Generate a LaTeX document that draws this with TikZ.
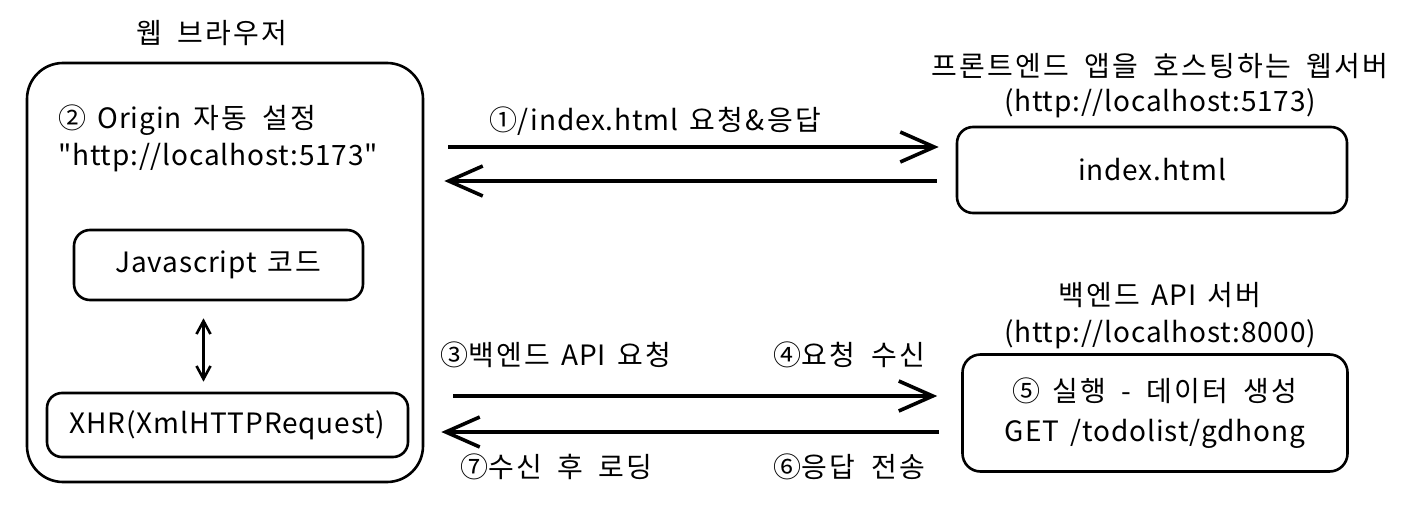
\documentclass[tikz,border=0pt]{standalone}
\usepackage{fontspec}
\setmainfont{Noto Sans CJK KR}[Ligatures=TeXOff, LetterSpace=3, WordSpace=1.6]
\newfontfamily\kr{Noto Sans CJK KR}[Ligatures=TeXOff, LetterSpace=8, WordSpace=1.8]
\newcommand{\K}[1]{{\kr #1}}
\usetikzlibrary{arrows.meta}
\begin{document}
\begin{tikzpicture}[x=1pt,y=-1pt,
  box/.style={draw, line width=2.6pt, rounded corners=16pt, inner sep=0pt, align=center},
  lbl/.style={font=\fontsize{28}{37}\selectfont, inner sep=0pt, align=center},
  flow/.style={line width=3.6pt, -{Straight Barb[length=34pt,width=30pt,line width=3.6pt]}},
  dbl/.style={line width=2.6pt, {Straight Barb[length=13pt,width=14pt,line width=2.6pt]}-{Straight Barb[length=13pt,width=14pt,line width=2.6pt]}}]
\useasboundingbox (0,0) rectangle (1404,516);
% browser
\node[box, rounded corners=36pt, minimum width=396pt, minimum height=419pt] (browser) at (225,272.5) {};
\node[lbl] (browsertitle) at (212,33) {\K{웹 브라우저}};
\node[lbl, anchor=west, align=left] (origin) at (58,138) {② Origin \K{자동 설정}\\"http://localhost:5173"};
\node[box, lbl, minimum width=289pt, minimum height=70pt] (js) at (218.5,265) {Javascript \K{코드}};
\node[box, lbl, rounded corners=15pt, minimum width=361pt, minimum height=64pt] (xhr) at (227.5,425) {XHR(XmlHTTPRequest)};
\draw[dbl, shorten <=17pt, shorten >=10pt] ([xshift=-15pt]js.south) -- ([xshift=-15pt]js.south |- xhr.north);
% frontend server
\node[lbl, font=\fontsize{28}{35}\selectfont] (fetitle) at (1160,86) {\K{프론트엔드 앱을 호스팅하는 웹서버}\\(http://localhost:5173)};
\node[box, lbl, minimum width=390pt, minimum height=86pt] (index) at (1152,170) {index.html};
% backend server
\node[lbl] (betitle) at (1160,316) {\K{백엔드} API \K{서버}\\(http://localhost:8000)};
\node[box, lbl, rounded corners=18pt, minimum width=385pt, minimum height=117pt, font=\fontsize{28}{40}\selectfont] (api) at (1155,413) {⑤ \K{실행 - 데이터 생성}\\GET /todolist/gdhong};
% arrows top
\coordinate (i1) at ([xshift=-17pt,yshift=23pt]index.west);
\coordinate (i2) at ([xshift=-19pt,yshift=-11pt]index.west);
\draw[flow, shorten <=24pt] (browser.east |- i1) -- (i1);
\draw[flow, shorten >=20pt] (i2) -- (browser.east |- i2);
\node[lbl] (l1) at (655,121) {①/index.html \K{요청\&응답}};
% arrows bottom
\coordinate (a1) at ([xshift=-24pt,yshift=17pt]api.west);
\coordinate (a2) at ([xshift=-22pt,yshift=-19pt]api.west);
\draw[flow, shorten <=29pt] (browser.east |- a1) -- (a1);
\draw[flow, shorten >=17pt] (a2) -- (browser.east |- a2);
\node[lbl, anchor=west] (l3) at (440,355) {③\K{백엔드} API \K{요청}};
\node[lbl, anchor=east] (l4) at (925,355) {④\K{요청 수신}};
\node[lbl, anchor=west] (l7) at (460,467) {⑦\K{수신 후 로딩}};
\node[lbl, anchor=east] (l6) at (925,467) {⑥\K{응답 전송}};
\end{tikzpicture}
\end{document}
